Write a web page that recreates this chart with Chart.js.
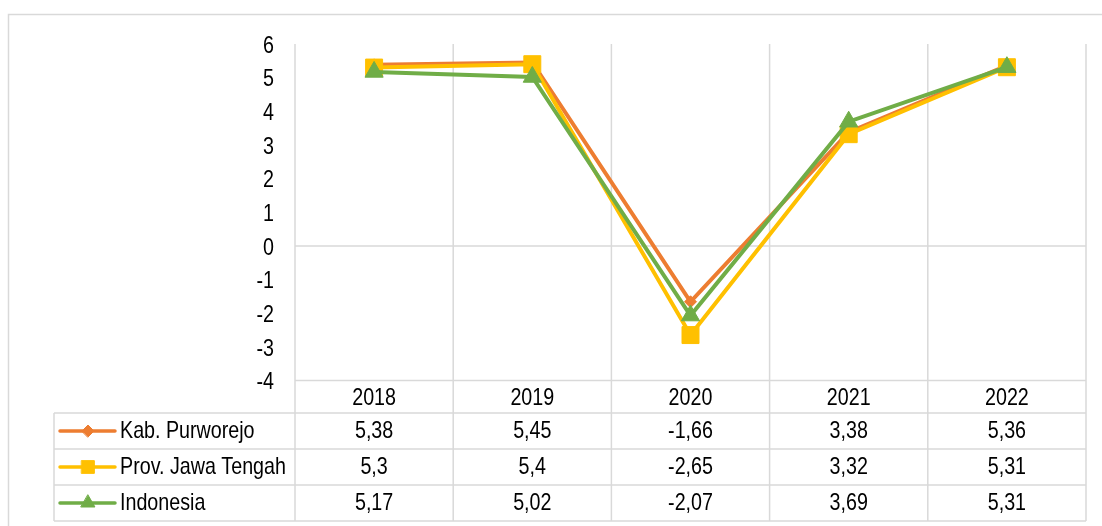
<!DOCTYPE html>
<html>
<head>
<meta charset="utf-8">
<script src="https://cdn.jsdelivr.net/npm/chart.js@4.4.1/dist/chart.umd.min.js"></script>
<style>
  html, body { margin: 0; padding: 0; background: #fff; }
  #wrap { width: 1102px; height: 526px; position: relative; }
</style>
</head>
<body>
<div id="wrap"><canvas id="growth-chart" width="1102" height="526"></canvas></div>
<script>
const YEARS = ['2018', '2019', '2020', '2021', '2022'];
const PURWOREJO = [5.38, 5.45, -1.66, 3.38, 5.36];
const JATENG = [5.3, 5.4, -2.65, 3.32, 5.31];
const INDONESIA = [5.17, 5.02, -2.07, 3.69, 5.31];
const Y_TICKS = [6, 5, 4, 3, 2, 1, 0, -1, -2, -3, -4];
const SERIES_NAMES = ['Kab. Purworejo', 'Prov. Jawa Tengah', 'Indonesia'];

const COLORS = ['#ED7D31', '#FFC000', '#70AD47'];
const GRID = '#d9d9d9';
const FONT = "24px 'Liberation Sans', Arial, sans-serif";
const SQUEEZE = 0.82; // text in the picture is narrow

const tableLeft = 54;
const headerH = 32.5;
const rowH = 36;

function txt(ctx, s, x, y, align) {
    ctx.save();
    ctx.translate(x, y);
    ctx.scale(SQUEEZE, 1);
    ctx.font = FONT;
    ctx.fillStyle = '#000';
    ctx.textAlign = align;
    ctx.textBaseline = 'alphabetic';
    ctx.fillText(s, 0, 0);
    ctx.restore();
}

function hline(ctx, x1, x2, y) { ctx.beginPath(); ctx.moveTo(x1, y); ctx.lineTo(x2, y); ctx.stroke(); }
function vline(ctx, x, y1, y2) { ctx.beginPath(); ctx.moveTo(x, y1); ctx.lineTo(x, y2); ctx.stroke(); }

const fmt = v => String(v).replace('.', ',');

const tablePlugin = {
    id: 'dataTable',
    beforeDatasetsDraw(chart) {
        const ctx = chart.ctx, a = chart.chartArea, xs = chart.scales.x, ys = chart.scales.y;
        const band = a.width / YEARS.length;
        const tableTop = a.bottom + headerH;
        const tableBottom = tableTop + rowH * SERIES_NAMES.length;

        ctx.save();
        ctx.strokeStyle = GRID;
        ctx.lineWidth = 1.5;
        // outer frame (cut by the picture edges)
        ctx.strokeRect(8.5, 14.5, 1200, 600);
        // vertical lines through plot and table
        for (let i = 0; i <= YEARS.length; i++) vline(ctx, a.left + i * band, a.top, tableBottom);
        // zero line
        hline(ctx, a.left, a.right, ys.getPixelForValue(0));
        // header + table rows
        hline(ctx, a.left, a.right, a.bottom);
        for (let r = 0; r <= SERIES_NAMES.length; r++) hline(ctx, tableLeft, a.right, tableTop + r * rowH);
        vline(ctx, tableLeft, tableTop, tableBottom);
        ctx.restore();

        // y tick labels
        Y_TICKS.forEach(t => txt(ctx, String(t), 274, ys.getPixelForValue(t) + 8.7, 'right'));
        // year headers
        YEARS.forEach((yr, i) => txt(ctx, yr, xs.getPixelForValue(i), a.bottom + 24, 'center'));

        // rows: legend key + values
        chart.data.datasets.forEach((ds, r) => {
            const top = tableTop + r * rowH;
            const mid = top + rowH / 2;
            ctx.save();
            ctx.strokeStyle = ds.borderColor;
            ctx.lineWidth = 3.5;
            ctx.lineCap = 'round';
            hline(ctx, 60, 115, mid);
            ctx.fillStyle = ds.borderColor;
            ctx.strokeStyle = ds.borderColor;
            ctx.lineWidth = 1;
            const legendRadius = [6, 9, 8][r];
            Chart.helpers.drawPoint(ctx, { pointStyle: ds.pointStyle, radius: legendRadius, rotation: 0, borderWidth: 1 }, 88, mid);
            ctx.restore();
            txt(ctx, SERIES_NAMES[r], 120, top + 25, 'left');
            ds.data.forEach((v, i) => txt(ctx, fmt(v), xs.getPixelForValue(i), top + 25, 'center'));
        });
    }
};

function series(label, data, idx, style, radius, order) {
    return {
        label, data, order,
        borderColor: COLORS[idx],
        backgroundColor: COLORS[idx],
        pointBackgroundColor: COLORS[idx],
        pointBorderColor: COLORS[idx],
        borderWidth: 4,
        pointStyle: style,
        pointRadius: radius,
        pointBorderWidth: 1,
        tension: 0
    };
}

new Chart(document.getElementById('growth-chart'), {
    type: 'line',
    data: {
        labels: YEARS,
        datasets: [
            series(SERIES_NAMES[0], PURWOREJO, 0, 'rectRot', 6, 2),
            series(SERIES_NAMES[1], JATENG, 1, 'rect', 12, 1),
            series(SERIES_NAMES[2], INDONESIA, 2, 'triangle', 10.5, 0)
        ]
    },
    options: {
        responsive: false,
        devicePixelRatio: 1,
        animation: false,
        layout: { padding: { left: 295, top: 44, right: 16, bottom: 145.5 } },
        scales: {
            x: { display: false, offset: true },
            y: { display: false, min: -4, max: 6 }
        },
        plugins: { legend: { display: false }, tooltip: { enabled: false } }
    },
    plugins: [tablePlugin]
});
</script>
</body>
</html>
